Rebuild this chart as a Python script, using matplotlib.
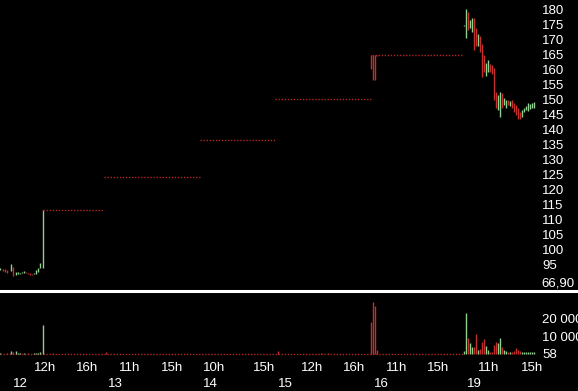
import matplotlib
matplotlib.use("Agg")
import matplotlib.pyplot as plt
from matplotlib.lines import Line2D

plt.rcParams['font.family'] = ['Liberation Sans Narrow', 'Liberation Sans', 'DejaVu Sans']

# time axis: one unit per chart column (bars every 2 units)
# day 12 session, before the limit-up halt
slot_12 = [0, 3, 5, 7, 11, 13, 16, 18, 20, 22, 24, 26, 28, 30, 32, 34, 36, 38, 40, 43]
high_12 = [93.8, 93.3, 93.3, 93.0, 95.0, 94.1, 92.4, 92.4, 92.0, 92.4, 92.7, 92.4, 92.0, 91.9, 91.6, 92.0, 92.9, 93.7, 95.3, 113.0]
low_12 = [93.0, 92.7, 92.3, 91.9, 92.7, 91.0, 91.3, 91.6, 91.6, 92.0, 92.0, 92.0, 91.6, 91.3, 91.3, 91.6, 91.8, 92.3, 93.7, 93.8]
up_12 = [1, 0, 0, 0, 1, 0, 1, 1, 1, 1, 1, 0, 0, 0, 0, 1, 1, 1, 1, 1]
vol_12 = [300, 200, 200, 300, 1700, 1100, 1700, 300, 300, 200, 300, 200, 300, 200, 200, 300, 400, 500, 900, 16500]

# day 16 open
slot_16 = [371, 373, 375, 377]
high_16 = [164.7, 164.7, 164.7, 164.7]
low_16 = [160.0, 156.3, 156.3, 164.4]
up_16 = [0, 0, 0, 0]
vol_16 = [18000, 29000, 27000, 2500]

# day 19 session
slot_19 = list(range(464, 536, 2))
high_19 = [174.7, 180.0, 179.0, 176.3, 177.0, 177.0, 173.7, 171.7, 171.0, 168.3, 164.7, 162.0,
           163.0, 161.7, 161.3, 160.3, 152.3, 151.3, 152.3, 152.0, 150.3, 149.7, 149.7, 149.3,
           149.7, 148.7, 148.0, 147.0, 145.7, 146.3, 147.0, 147.7, 148.7, 148.3, 148.7, 149.0]
low_19 = [174.3, 170.3, 173.0, 173.7, 172.3, 166.3, 167.7, 167.7, 165.7, 157.3, 159.0, 157.7,
          159.0, 159.0, 158.3, 149.7, 147.0, 146.3, 144.0, 147.0, 148.0, 147.0, 148.0, 147.7,
          147.0, 145.7, 144.7, 143.4, 143.4, 144.0, 145.7, 146.3, 146.0, 146.7, 147.0, 147.0]
up_19 = [1, 1, 0, 1, 1, 0, 0, 1, 0, 0, 0, 1, 1, 0, 0, 0, 0, 1, 1, 0, 1, 1, 0, 1,
         0, 0, 0, 0, 0, 1, 1, 1, 1, 1, 1, 1]
vol_19 = [1700, 23000, 8800, 5900, 4100, 4100, 11000, 2300, 3000, 7000, 8200, 4700,
          2300, 1200, 1000, 5300, 7000, 5900, 8800, 4100, 2300, 1500, 1000, 1200,
          1000, 1500, 3500, 2000, 1500, 1200, 1200, 1000, 1200, 1000, 1200, 1100]

# limit-up halts (flat dotted price)
halt_start = [43, 104, 200, 275, 372]
halt_end = [104, 200, 275, 371, 463]
halt_price = [113.0, 124.0, 136.3, 150.0, 164.7]

# small trades during halts
tiny_slot = [53, 106, 278, 321, 328]
tiny_vol = [600, 900, 1500, 400, 400]

hour_pos = [45, 87, 130, 172, 214, 264, 312, 354, 397, 438, 489, 532]
hour_lab = ["12h", "16h", "11h", "15h", "10h", "15h", "12h", "16h", "11h", "15h", "11h", "15h"]
day_pos = [20, 115, 210, 285, 381, 474]
day_lab = ["12", "13", "14", "15", "16", "19"]

price_ticks = list(range(95, 185, 5))
vol_ticks = [58, 10000, 20000]
vol_labels = ["58", "10 000", "20 000"]

UP = "#8fd08f"
DOWN = "#c43030"
HALT = "#b02525"

slots = slot_12 + slot_16 + slot_19
highs = high_12 + high_16 + high_19
lows = low_12 + low_16 + low_19
ups = up_12 + up_16 + up_19
vols = vol_12 + vol_16 + vol_19
colors = [UP if u else DOWN for u in ups]

W, H = 578, 391
fig = plt.figure(figsize=(W / 100, H / 100), dpi=100, facecolor="black")
ax = fig.add_axes([0, 1 - 289 / H, 538 / W, 289 / H], facecolor="black")
axv = fig.add_axes([0, 1 - 356 / H, 538 / W, 62 / H], facecolor="black")

# price bars
ax.vlines(slots, lows, highs, colors=colors, lw=1.0)
for s, e, p in zip(halt_start, halt_end, halt_price):
    ax.plot([s, e], [p, p], color=HALT, lw=1, ls=(0, (1, 1.2)))

ax.set_xlim(0, 538)
ax.set_ylim(86.67, 183)
ax.yaxis.tick_right()
ax.set_yticks(price_ticks)
ax.set_yticklabels([str(t) for t in price_ticks])
ax.set_xticks([])
ax.tick_params(axis="y", length=0, pad=3, labelsize=9.5, labelcolor="white")
ax.annotate("66,90", xy=(1, 0), xycoords="axes fraction", xytext=(3, 5),
            textcoords="offset pixels", color="white", fontsize=9.5, ha="left", va="center")

# volume
axv.plot([0, 463], [58, 58], color=HALT, lw=1, ls=(0, (1, 1.2)))
axv.vlines(slots, 0, vols, colors=colors, lw=1.0)
axv.vlines(tiny_slot, 0, tiny_vol, colors=DOWN, lw=1.0)
axv.set_xlim(0, 538)
axv.set_ylim(-1143, 33714)
axv.yaxis.tick_right()
axv.set_yticks(vol_ticks)
axv.set_yticklabels(vol_labels)
axv.tick_params(axis="y", length=0, pad=3, labelsize=9.5, labelcolor="white")
axv.set_xticks(hour_pos)
axv.set_xticklabels(hour_lab)
axv.tick_params(axis="x", length=0, pad=4, labelsize=9.5, labelcolor="white")
for p, lab in zip(day_pos, day_lab):
    axv.text(p, -0.45, lab, transform=axv.get_xaxis_transform(), color="white",
             fontsize=9.5, ha="center", va="center")

for a in (ax, axv):
    for sp in a.spines.values():
        sp.set_visible(False)

fig.add_artist(Line2D([0, 1], [1 - 291 / H, 1 - 291 / H], color="white", lw=2.2,
                      transform=fig.transFigure))

fig.savefig("out.png", dpi=100, facecolor="black")
